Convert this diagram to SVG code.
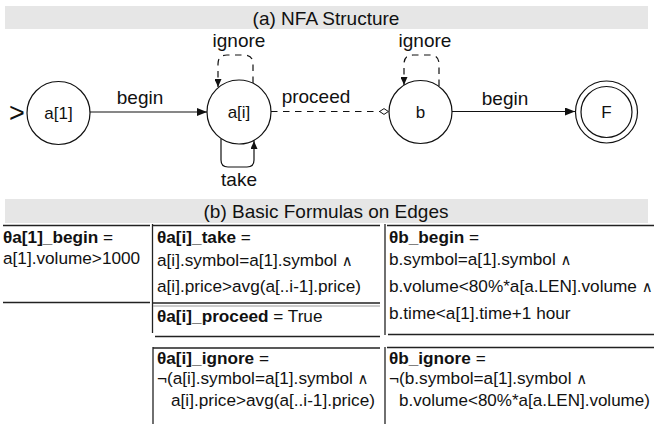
<svg xmlns="http://www.w3.org/2000/svg" width="654" height="424" viewBox="0 0 654 424">
<style>
  text { font-family: "Liberation Sans", Arial, Helvetica, sans-serif; fill: #111; }
  .title { font-size: 19px; text-anchor: middle; }
  .node { fill: #fff; stroke: #111; stroke-width: 1.2; }
  .nlabel { font-size: 17px; text-anchor: middle; }
  .elabel { font-size: 19px; text-anchor: middle; }
  .edge { fill: none; stroke: #111; stroke-width: 1.2; }
  .dash { stroke-dasharray: 6.5 5.5; }
  .cell { font-size: 17.2px; }
  .b { font-weight: bold; }
  .and { font-family: "DejaVu Sans", sans-serif; font-size: 15px; }
  .rule { stroke: #222; stroke-width: 1.3; fill: none; }
  .band { fill: #e6e6e6; }
</style>
<defs>
  <marker id="arrow" viewBox="0 0 10 8" refX="10" refY="4" markerWidth="10" markerHeight="8" markerUnits="userSpaceOnUse" orient="auto">
    <path d="M0,0 L10,4 L0,8 Z" fill="#111"/>
  </marker>
  <marker id="arrowS" viewBox="0 0 8 7" refX="8" refY="3.5" markerWidth="8" markerHeight="7" markerUnits="userSpaceOnUse" orient="auto">
    <path d="M0,0 L8,3.5 L0,7 Z" fill="#111"/>
  </marker>
  <marker id="diamond" viewBox="0 0 10 7" refX="10" refY="3.5" markerWidth="10" markerHeight="7" markerUnits="userSpaceOnUse" orient="auto">
    <path d="M0.6,3.5 L5,0.6 L9.4,3.5 L5,6.4 Z" fill="#fff" stroke="#111" stroke-width="1"/>
  </marker>
</defs>

<!-- (a) NFA Structure -->
<rect class="band" x="5" y="6" width="643" height="23"/>
<text class="title" x="326" y="24.5">(a) NFA Structure</text>

<g id="connectors">
  <line class="edge" x1="90" y1="112" x2="207" y2="112" marker-end="url(#arrow)"/>
  <text class="elabel" x="140" y="104">begin</text>
  <line class="edge dash" x1="271" y1="111.5" x2="389" y2="111.5" marker-end="url(#diamond)"/>
  <text class="elabel" x="316" y="103">proceed</text>
  <line class="edge" x1="452" y1="111.5" x2="575" y2="111.5" marker-end="url(#arrow)"/>
  <text class="elabel" x="505" y="105">begin</text>
  <path class="edge dash" d="M253,83 L253,64 Q253,55 244,55 L227,55 Q218,55 218,64 L218,87" marker-end="url(#arrowS)"/>
  <text class="elabel" x="239" y="47">ignore</text>
  <path class="edge" d="M221,139 L221,160 Q221,167 228,167 L247,167 Q254,167 254,160 L254,141" marker-end="url(#arrowS)"/>
  <text class="elabel" x="239" y="186">take</text>
  <path class="edge dash" d="M439,86 L439,64 Q439,55 430,55 L413,55 Q404,55 404,64 L404,85" marker-end="url(#arrowS)"/>
  <text class="elabel" x="425" y="47">ignore</text>
</g>

<g id="start">
  <text x="9" y="122" style="font-size:27px">&gt;</text>
</g>
<g id="node-a1">
  <circle class="node" cx="58.5" cy="113" r="31.5"/>
  <text class="nlabel" x="58.5" y="119">a[1]</text>
</g>
<g id="node-ai">
  <circle class="node" cx="239" cy="112" r="32"/>
  <text class="nlabel" x="239" y="118">a[i]</text>
</g>
<g id="node-b">
  <circle class="node" cx="420.5" cy="112" r="31.5"/>
  <text class="nlabel" x="420.5" y="118">b</text>
</g>
<g id="node-F">
  <circle class="node" cx="606.5" cy="112" r="31"/>
  <circle class="node" cx="606.5" cy="112" r="25.5"/>
  <text class="nlabel" x="606.5" y="118">F</text>
</g>

<!-- (b) Basic Formulas on Edges -->
<rect class="band" x="5" y="199" width="643" height="24"/>
<text class="title" x="326" y="218">(b) Basic Formulas on Edges</text>

<g id="table-rules">
  <line class="rule" x1="3" y1="225.5" x2="150" y2="225.5"/>
  <line class="rule" x1="3" y1="302.5" x2="150" y2="302.5"/>
  <line class="rule" x1="152.5" y1="224" x2="152.5" y2="333"/>
  <line class="rule" x1="153" y1="225.5" x2="380" y2="225.5"/>
  <line class="rule" x1="153" y1="303" x2="380" y2="303" style="stroke-width:1.5"/>
  <line x1="153" y1="306" x2="380" y2="306" stroke="#999" stroke-width="1"/>
  <line class="rule" x1="155" y1="336.5" x2="380" y2="336.5"/>
  <line class="rule" x1="385" y1="224" x2="385" y2="335"/>
  <line class="rule" x1="387" y1="225.5" x2="654" y2="225.5"/>
  <line class="rule" x1="388" y1="334.5" x2="654" y2="334.5"/>
  <line class="rule" x1="153" y1="347" x2="153" y2="424"/>
  <line class="rule" x1="153" y1="348" x2="380" y2="348"/>
  <line class="rule" x1="385" y1="347" x2="385" y2="424"/>
  <line class="rule" x1="387" y1="347.5" x2="654" y2="347.5"/>
</g>

<g id="cell-a1-begin">
  <text class="cell" x="3" y="243"><tspan class="b">θa[1]_begin</tspan> =</text>
  <text class="cell" x="3" y="264">a[1].volume&gt;1000</text>
</g>
<g id="cell-ai-take">
  <text class="cell" x="157" y="243"><tspan class="b">θa[i]_take</tspan> =</text>
  <text class="cell" x="157" y="266">a[i].symbol=a[1].symbol <tspan class="and">∧</tspan></text>
  <text class="cell" x="157" y="292">a[i].price&gt;avg(a[..i-1].price)</text>
</g>
<g id="cell-ai-proceed">
  <text class="cell" x="157" y="322"><tspan class="b">θa[i]_proceed</tspan> = True</text>
</g>
<g id="cell-b-begin">
  <text class="cell" x="389" y="243"><tspan class="b">θb_begin</tspan> =</text>
  <text class="cell" x="389" y="265">b.symbol=a[1].symbol <tspan class="and">∧</tspan></text>
  <text class="cell" x="389" y="292">b.volume&lt;80%*a[a.LEN].volume <tspan class="and">∧</tspan></text>
  <text class="cell" x="389" y="319">b.time&lt;a[1].time+1 hour</text>
</g>
<g id="cell-ai-ignore">
  <text class="cell" x="157" y="364"><tspan class="b">θa[i]_ignore</tspan> =</text>
  <text class="cell" x="157" y="384">¬(a[i].symbol=a[1].symbol <tspan class="and">∧</tspan></text>
  <text class="cell" x="171" y="406">a[i].price&gt;avg(a[..i-1].price)</text>
</g>
<g id="cell-b-ignore">
  <text class="cell" x="389" y="364"><tspan class="b">θb_ignore</tspan> =</text>
  <text class="cell" x="389" y="384">¬(b.symbol=a[1].symbol <tspan class="and">∧</tspan></text>
  <text class="cell" x="399" y="406" style="font-size:17px">b.volume&lt;80%*a[a.LEN].volume)</text>
</g>
</svg>
